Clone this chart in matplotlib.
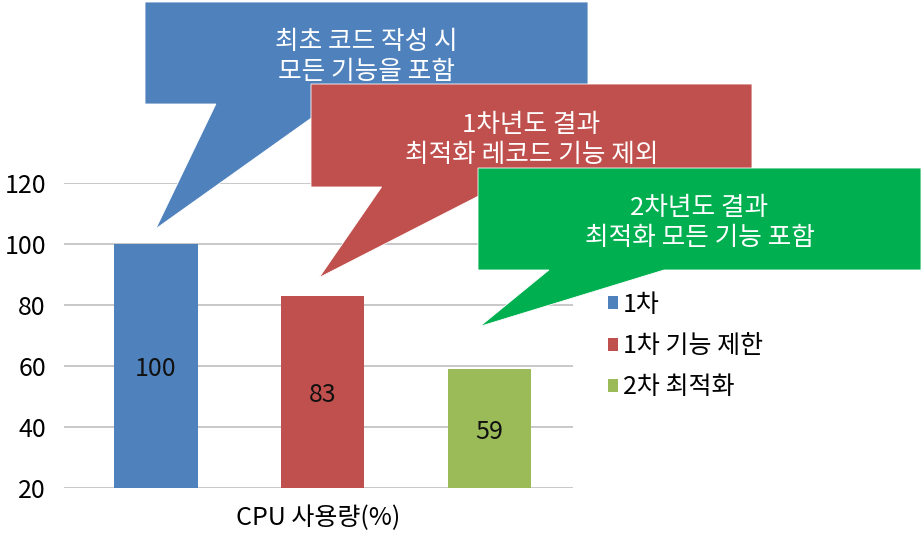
import matplotlib
matplotlib.use("Agg")
import matplotlib.pyplot as plt
from matplotlib.patches import Polygon
from matplotlib.transforms import IdentityTransform

plt.rcParams['font.family'] = ['Noto Sans CJK KR', 'DejaVu Sans']

# data
series = ['1차', '1차 기능 제한', '2차 최적화']
values = [100, 83, 59]
colors = ['#4F81BD', '#C0504D', '#9BBB59']
xlabel = 'CPU 사용량(%)'
yticks = [20, 40, 60, 80, 100, 120]

# callouts: text, box colour, tail tip (offset from bar centre, height in data units)
callout_texts = ['최초 코드 작성 시\n모든 기능을 포함',
                 '1차년도 결과\n최적화 레코드 기능 제외',
                 '2차년도 결과\n최적화 모든 기능 포함']
callout_colors = ['#4F81BD', '#C0504D', '#00B050']
callout_tip_dx = [0, -0.02, -0.055]
callout_tip_y = [105, 89, 73]
# boxes in image pixels: left, top, right, bottom
callout_boxes = [(145, 2, 588, 104), (311, 84, 752, 187), (478, 168, 921, 270)]

W, H = 924, 556
fig = plt.figure(figsize=(W / 100, H / 100), dpi=100)
ax = fig.add_axes([64 / W, 1 - 488 / H, (573 - 64) / W, (488 - 183) / H])

xs = list(range(len(values)))
bars = ax.bar(xs, values, width=0.5, color=colors, label=series, zorder=2)
ax.set_ylim(20, 120)
ax.set_xlim(-0.551, 2.503)
ax.set_yticks(yticks)
ax.set_xticks([])
ax.yaxis.grid(True, color='#BFBFBF', linewidth=1.2)
ax.set_axisbelow(True)
for s in ax.spines.values():
    s.set_visible(False)
ax.tick_params(axis='y', length=0, labelsize=18, pad=13)
ax.set_xlabel(xlabel, fontsize=18, labelpad=12)

lo = ax.get_ylim()[0]
for x, v in zip(xs, values):
    ax.text(x, (v + lo) / 2 - 1, str(v), ha='center', va='center', fontsize=18, color='#111111', zorder=3)

ax.legend(handles=bars, labels=series, loc='upper left', bbox_to_anchor=(595 / W, 1 - 279 / H),
          bbox_transform=fig.transFigure, frameon=False, fontsize=18, borderpad=0,
          handlelength=0.42, handleheight=0.42, handletextpad=0.2, labelspacing=0.62)

fig.canvas.draw()
for i, (txt, col, dx, ty, box) in enumerate(zip(callout_texts, callout_colors, callout_tip_dx,
                                                  callout_tip_y, callout_boxes)):
    l, t, r, b = box
    w = r - l
    tip = ax.transData.transform((xs[i] + dx, ty))
    pts = [(l, H - t), (r, H - t), (r, H - b), (l + 0.42 * w, H - b), tuple(tip),
           (l + 0.16 * w, H - b), (l, H - b)]
    poly = Polygon(pts, closed=True, facecolor=col, edgecolor='white', linewidth=0.6,
                   transform=IdentityTransform(), zorder=10 + 2 * i)
    fig.add_artist(poly)
    fig.text((l + r) / 2 / W, 1 - ((t + b) / 2 + 4) / H, txt, ha='center', va='center',
             color='white', fontsize=18.5, linespacing=1.2, zorder=11 + 2 * i)

fig.savefig('out.png', dpi=100)
